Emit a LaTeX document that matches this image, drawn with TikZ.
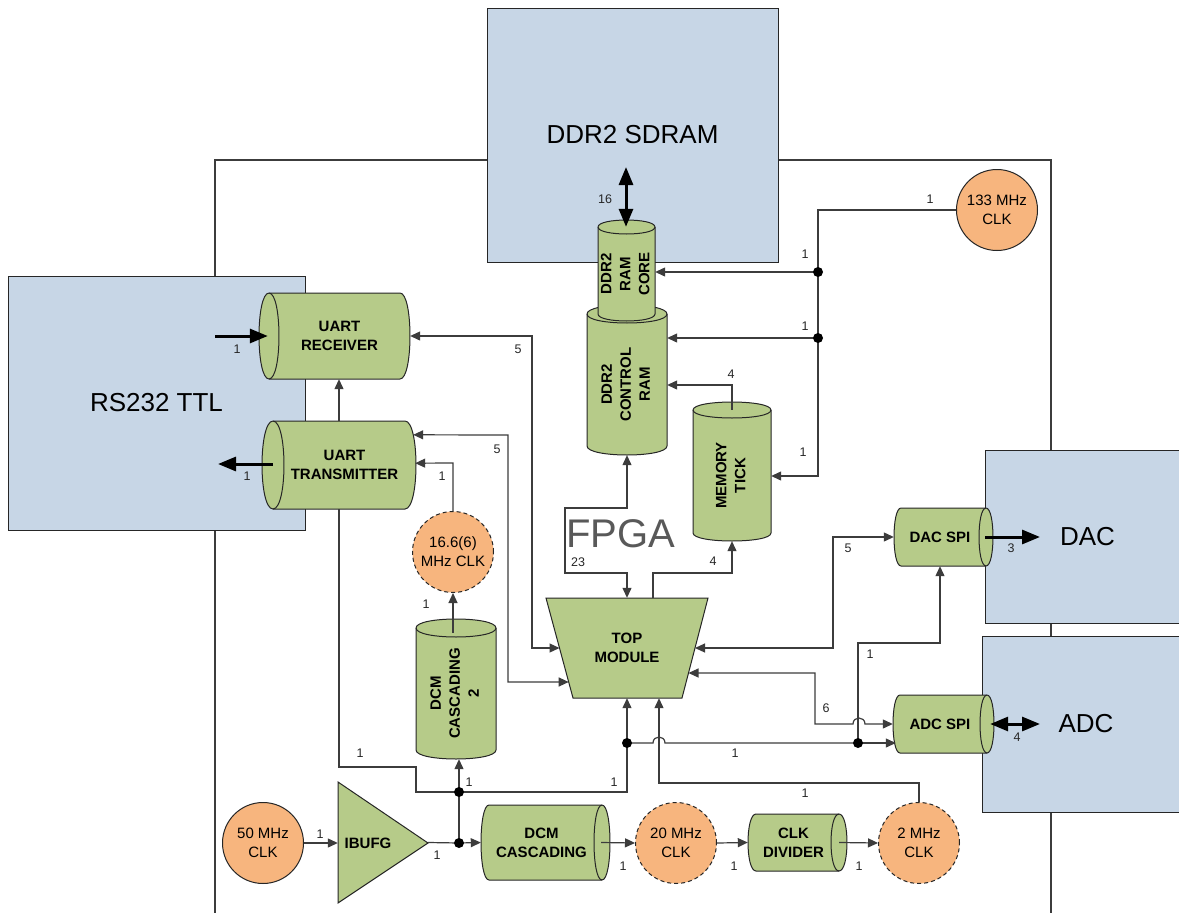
\documentclass[tikz,border=0pt]{standalone}
\usepackage{fontspec}
\setmainfont{Liberation Sans}
\usepackage{graphicx}
\usetikzlibrary{arrows.meta,calc}

\definecolor{boxblue}{RGB}{199,214,230}
\definecolor{blockgreen}{RGB}{182,203,137}
\definecolor{clkorange}{RGB}{247,181,126}
\definecolor{edge}{RGB}{38,38,38}
\definecolor{wirecol}{RGB}{60,60,60}
\definecolor{fpgagrey}{RGB}{89,89,89}

\tikzset{
  blockfill/.style={fill=blockgreen, draw=edge, line width=1pt},
  blockrim/.style={draw=edge, line width=1pt},
  blocktext/.style={font=\fontsize{15}{19}\selectfont\bfseries, align=center, inner sep=0pt, text=black},
  frame/.style={draw=none, inner sep=0pt},
  chip/.style={draw=edge, fill=boxblue, line width=1pt, inner sep=0pt, font=\fontsize{26}{30}\selectfont},
  clock/.style={circle, draw=edge, fill=clkorange, line width=1pt, minimum size=81pt, inner sep=0pt, align=center, font=\fontsize{15}{19}\selectfont},
  derived/.style={clock, dash pattern=on 4pt off 3pt},
  wire/.style={draw=wirecol, line width=1.2pt, >={Triangle[length=10pt,width=9pt]}},
  bus/.style={draw=black, line width=3pt, >={Triangle[length=18pt,width=14pt]}},
  num/.style={font=\fontsize{12.5}{14}\selectfont, inner sep=0pt, text=black!85},
  fpgaframe/.style={draw=wirecol, line width=1.3pt},
}

% body of a drum: straight sides, both ends bulging outwards
\newcommand\drumbody[5]{%
  \path[blockfill] (#1+#5,#2) -- (#3-#5,#2)
    .. controls (#3-#5+1.333*#5,#2) and (#3-#5+1.333*#5,#4) .. (#3-#5,#4)
    -- (#1+#5,#4)
    .. controls (#1+#5-1.333*#5,#4) and (#1+#5-1.333*#5,#2) .. (#1+#5,#2) -- cycle;
}
% horizontal drum, end face on the right: name, x1, y1, x2, y2, r, text
\newcommand\drumright[7]{%
  \drumbody{#2}{#3}{#4}{#5}{#6}
  \draw[blockrim] (#4-#6,#3) .. controls (#4-#6-1.333*#6,#3) and (#4-#6-1.333*#6,#5) .. (#4-#6,#5);
  \node[frame, minimum width={(#4-#2)*1pt}, minimum height={(#5-#3)*1pt}] (#1) at ({(#2+#4)/2},{(#3+#5)/2}) {};
  \node[blocktext] (#1t) at ({(#2+#4)/2-#6/2},{(#3+#5)/2}) {#7};
}
% horizontal drum, end face on the left
\newcommand\drumleft[7]{%
  \drumbody{#2}{#3}{#4}{#5}{#6}
  \draw[blockrim] (#2+#6,#3) .. controls (#2+#6+1.333*#6,#3) and (#2+#6+1.333*#6,#5) .. (#2+#6,#5);
  \node[frame, minimum width={(#4-#2)*1pt}, minimum height={(#5-#3)*1pt}] (#1) at ({(#2+#4)/2},{(#3+#5)/2}) {};
  \node[blocktext] (#1t) at ({(#2+#4)/2+#6/2},{(#3+#5)/2}) {#7};
}
% upright drum, end face on top, text turned
\newcommand\drumup[7]{%
  \path[blockfill] (#2,#3+#6)
    .. controls (#2,#3+#6-1.333*#6) and (#4,#3+#6-1.333*#6) .. (#4,#3+#6)
    -- (#4,#5-#6)
    .. controls (#4,#5-#6+1.333*#6) and (#2,#5-#6+1.333*#6) .. (#2,#5-#6) -- cycle;
  \draw[blockrim] (#2,#3+#6) .. controls (#2,#3+#6+1.333*#6) and (#4,#3+#6+1.333*#6) .. (#4,#3+#6);
  \node[frame, minimum width={(#4-#2)*1pt}, minimum height={(#5-#3)*1pt}] (#1) at ({(#2+#4)/2},{(#3+#5)/2}) {};
  \node[blocktext] (#1t) at ({(#2+#4)/2},{(#3+#5)/2+#6/2}) {\rotatebox{90}{\begin{tabular}{@{}c@{}}#7\end{tabular}}};
}

\begin{document}
\begin{tikzpicture}[x=1pt,y=-1pt]
\useasboundingbox (0,0) rectangle (1179,913);
\clip (0,0) rectangle (1179,913);
\fill[white] (0,0) rectangle (1179,913);

% FPGA outline
\draw[fpgaframe] (215,920) -- (215,160) -- (1051,160) -- (1051,920);

% external devices
\node[chip, minimum width=291pt, minimum height=254pt] (sdram) at (632.5,135) {DDR2 SDRAM};
\node[chip, minimum width=297pt, minimum height=254pt] (rs232) at (156.5,403) {RS232 TTL};
\node[chip, minimum width=205pt, minimum height=173pt] (dac) at (1087.5,536.5) {DAC};
\node[chip, minimum width=208pt, minimum height=176pt] (adc) at (1086,724) {ADC};

\node[font=\fontsize{40}{44}\selectfont, text=fpgagrey, inner sep=0pt] (fpga) at (621,534) {FPGA};

% memory side
\drumup{ctrl}{587}{305}{667}{455}{9}{DDR2\\CONTROL\\RAM}
\drumup{core}{598}{220}{655}{321}{7}{DDR2\\RAM\\CORE}
\drumup{tick}{693}{402}{771}{541}{8}{MEMORY\\TICK}
\drumup{dcmb}{416}{619}{496}{759}{9}{DCM\\CASCADING\\2}

% serial and converter blocks
\drumleft{urx}{259}{293}{410}{379}{10}{UART\\RECEIVER}
\drumleft{utx}{262}{421}{416}{509}{11}{UART\\TRANSMITTER}
\drumright{dacspi}{894}{508}{993}{566}{7}{DAC SPI}
\drumright{adcspi}{893}{695}{994}{753}{7}{ADC SPI}
\drumright{dcm}{481}{805}{610}{880}{8}{DCM\\CASCADING}
\drumright{clkdiv}{748}{814}{847}{871}{8}{CLK\\DIVIDER}

% top module
\coordinate (tl) at (546,598);
\coordinate (tr) at (708,598);
\coordinate (br) at (682,698);
\coordinate (bl) at (573,698);
\path[blockfill] (tl) -- (tr) -- (br) -- (bl) -- cycle;
\node[blocktext, minimum width=162pt, minimum height=100pt] (top) at (627,648) {TOP\\MODULE};

% input buffer
\path[blockfill] (338,782) -- (428,843) -- (338,903) -- cycle;
\node[frame, minimum width=90pt, minimum height=121pt] (ibufg) at (383,842.5) {};
\node[blocktext] (ibufgt) at (368,843) {IBUFG};

% clocks
\node[clock] (c50) at (263,843) {50 MHz\\CLK};
\node[derived] (c20) at (676,843) {20 MHz\\CLK};
\node[derived] (c2) at (919,843) {2 MHz\\CLK};
\node[clock] (c133) at (997,210) {133 MHz\\CLK};
\node[derived] (c166) at (453,552) {16.6(6)\\MHz CLK};

% junctions and port points
\coordinate (m1) at (818,272);
\coordinate (m2) at (818,338);
\coordinate (m3) at (818,476);
\coordinate (m4) at (732,385);
\coordinate (jA) at (459,843);
\coordinate (jB) at (459,792);
\coordinate (jC) at (627,743);
\coordinate (jD) at (858,743);
\coordinate (k1) at (940,643);
\coordinate (k2) at (833,537);
\coordinate (k3) at (659,783);
\coordinate (rxin) at (215,336);
\coordinate (txout) at (218,464);
\coordinate (memport) at (626,167);
\coordinate (dacport) at (1040,537);
\coordinate (adcport) at (1040,724);

% buses
\draw[bus,<->] (memport) -- ([yshift=-7pt]core.north -| memport);
\draw[bus,->] (rxin) -- ([xshift=9pt]urx.west);
\draw[bus,->] ([xshift=11pt]utx.west |- txout) -- (txout);
\draw[bus,->] ([xshift=-8pt]dacspi.east) -- (dacport);
\draw[bus,<->] ([xshift=-4pt]adcspi.east) -- (adcport);

% 133 MHz clock tree
\draw[wire,->] (c133.west) -| (m3) -- (tick.east |- m3);
\draw[wire,->] (m1) -- (core.east |- m1);
\draw[wire,->] (m2) -- (ctrl.east |- m2);
\draw[wire,->] ([yshift=-8pt]tick.north) -- (m4) -- (ctrl.east |- m4);

% top module links
\draw[wire,<->] (ctrl.south) -- (627,508) -- (565,508) -- (565,573) -- (627,573) -- (top.north);
\draw[wire,->] ([xshift=26pt]top.north) -- (653,573) -- (732,573) -- (tick.south);
\draw[wire,<->] (urx.east) -- (532,336) -- (532,648) -- ($(tl)!0.5!(bl)$);
\draw[wire,<->] ($(utx.north east)+(-3,14)$) -- (508,435) -- (508,682) -- ($(tl)!0.84!(bl)$);
\draw[wire,<->] ($(tr)!0.5!(br)$) -| (k2) -- (dacspi.west);
\draw[wire,<->] ($(tr)!0.75!(br)$) -- (815,673) -- (815,724) -- (853,724)
  .. controls (853,716) and (865,716) .. (865,724) -- (adcspi.west);

% UART clocking
\draw[wire,->] (c166.north) -- (453,463) -- ($(utx.south east)+(-1,-46)$);
\draw[wire,->] (utx.north) -- (utx.north |- urx.south);
\draw[wire,->] ([yshift=-14pt]c166.south |- dcmb.north) -- (c166.south);

% 50 MHz distribution
\draw[wire,->] (c50.east) -- (ibufg.west |- c50.east);
\draw[wire] (ibufg.east) -- (jA);
\draw[wire,->] (jA) -- (dcm.west);
\draw[wire] (jA) -- (jB);
\draw[wire,->] (jB) -- (jB |- dcmb.south);
\draw[wire] (jB) -| (416,767) -| (utx.south);
\draw[wire] (jB) -| (jC);
\draw[wire,->] (jC) -- (top.south);
\draw[wire] (jC) -- (653,743) .. controls (653,735) and (665,735) .. (665,743) -- (jD);
\draw[wire,->] (jD) -- ([xshift=3pt]adcspi.west |- jD);
\draw[wire,->] (jD) |- (k1) -- (k1 |- dacspi.south);

% divided clocks
\draw[wire,->] ([xshift=-9pt]dcm.east) -- (c20.west);
\draw[wire,->] (c20.east) -- (clkdiv.west);
\draw[wire,->] ([xshift=-8pt]clkdiv.east) -- (c2.west);
\draw[wire,->] (c2.north) |- (k3) -- (k3 |- top.south);

% junction dots
\foreach \j in {m1,m2,jA,jB,jC,jD} \fill (\j) circle (5pt);

% bus widths
\node[num] (n1) at (930,199) {1};
\node[num] (n2) at (805,254) {1};
\node[num] (n3) at (805,326) {1};
\node[num] (n4) at (803,452) {1};
\node[num] (n5) at (731,374) {4};
\node[num] (n6) at (605,199) {16};
\node[num] (n7) at (518,349) {5};
\node[num] (n8) at (497,449) {5};
\node[num] (n9) at (578,562) {23};
\node[num] (n10) at (713,561) {4};
\node[num] (n11) at (442,476) {1};
\node[num] (n12) at (237,349) {1};
\node[num] (n13) at (247,476) {1};
\node[num] (n14) at (426,604) {1};
\node[num] (n15) at (360,753) {1};
\node[num] (n16) at (469,782) {1};
\node[num] (n17) at (614,782) {1};
\node[num] (n18) at (735,753) {1};
\node[num] (n19) at (870,654) {1};
\node[num] (n20) at (848,548) {5};
\node[num] (n21) at (826,708) {6};
\node[num] (n22) at (1011,548) {3};
\node[num] (n23) at (1017,737) {4};
\node[num] (n24) at (805,793) {1};
\node[num] (n25) at (320,834) {1};
\node[num] (n26) at (437,855) {1};
\node[num] (n27) at (623,866) {1};
\node[num] (n28) at (734,866) {1};
\node[num] (n29) at (859,866) {1};
\end{tikzpicture}
\end{document}
